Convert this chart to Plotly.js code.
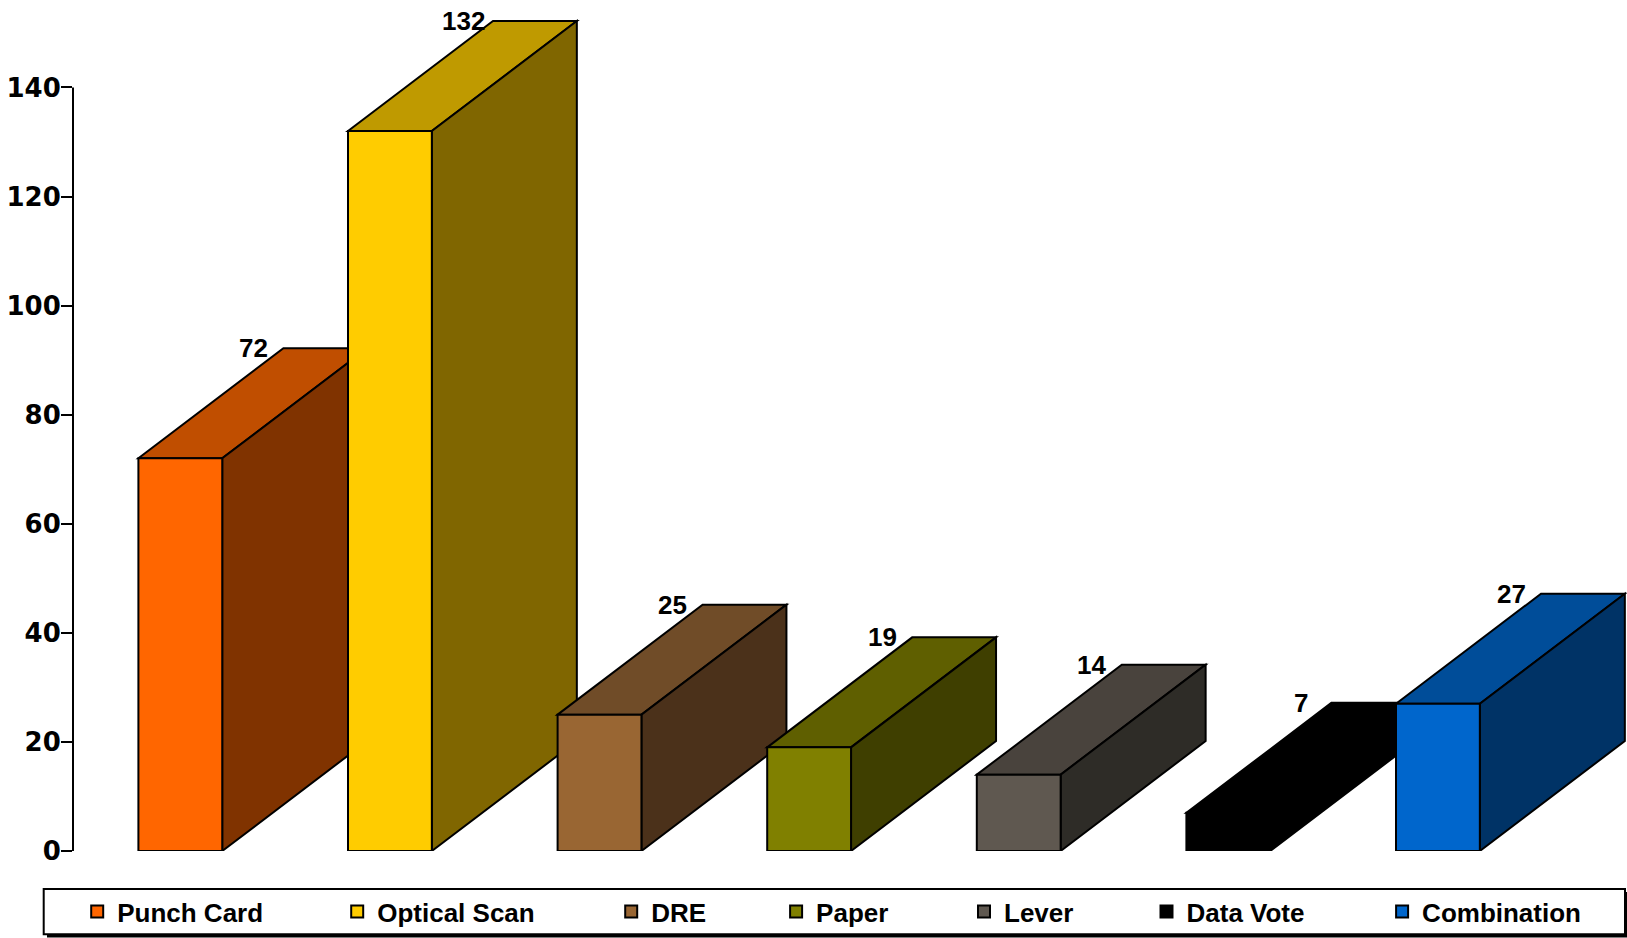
<!DOCTYPE html>
<html>
<head>
<meta charset="utf-8">
<script src="https://cdn.plot.ly/plotly-3.0.1.min.js"></script>
<style>html,body{margin:0;padding:0;background:#fff;}#chart{width:1627px;height:938px;}</style>
</head>
<body>
<div id="chart"></div>
<script>
// ---- data ----
const categories = ["Punch Card", "Optical Scan", "DRE", "Paper", "Lever", "Data Vote", "Combination"];
const values = [72, 132, 25, 19, 14, 7, 27];
const yTickValues = [0, 20, 40, 60, 80, 100, 120, 140];

// ---- styles ----
const frontColors = ["#FF6600", "#FFCC00", "#996633", "#808000", "#5F5850", "#000000", "#0066CC"];
const topColors   = ["#C04E00", "#BF9A00", "#704C28", "#5F5F00", "#49433D", "#000000", "#004D99"];
const sideColors  = ["#803300", "#806600", "#4B311A", "#3F3F00", "#2E2C27", "#000000", "#003366"];

// ---- layout geometry ----
const W = 1627, H = 938;
const ML = 73, MR = 0, MT = 0, MB = 87;
const plotW = W - ML - MR, plotH = H - MT - MB;
const xRange = [-0.512, -0.512 + plotW / 209.6];
const yRange = [0, plotH / 5.454];
const halfW = 0.2;          // half bar width (category units)
const DX = 145 / 209.6;     // depth offset in x units
const DY = 110 / 5.454;     // depth offset in y units
const FONT_T = "Liberation Sans, Arial, sans-serif";
const FONT_AX = "DejaVu Sans, Verdana, sans-serif";
const EDGE = 2;

const px2paperX = p => (p - ML) / plotW;
const px2paperY = p => (MT + plotH - p) / plotH;

// legend swatch centres in pixels (layout positions)
const legendSwatchCentres = [99.2, 359.2, 633.2, 798.1, 986, 1168.5, 1404.1];

const traces = [];
const shapes = [];
const annotations = [];
const layoutLegends = {};

// legend frame (shadow + box)
shapes.push({type: "rect", xref: "paper", yref: "paper", layer: "below",
  x0: px2paperX(47), x1: px2paperX(1628), y0: px2paperY(937.5), y1: px2paperY(892),
  fillcolor: "#000", line: {width: 0}});
shapes.push({type: "rect", xref: "paper", yref: "paper", layer: "below",
  x0: px2paperX(43.7), x1: px2paperX(1625), y0: px2paperY(934.3), y1: px2paperY(889),
  fillcolor: "#fff", line: {color: "#000", width: 2}});

// y axis line 0..140
shapes.push({type: "line", xref: "paper", yref: "y", layer: "above",
  x0: 0, x1: 0, y0: yTickValues[0], y1: yTickValues[yTickValues.length - 1],
  line: {color: "#000", width: 2}});

categories.forEach((name, i) => {
  const v = values[i];
  const xl = i - halfW, xr = i + halfW;
  // top face
  shapes.push({type: "path", xref: "x", yref: "y", layer: "below",
    path: `M${xl},${v} L${xl + DX},${v + DY} L${xr + DX},${v + DY} L${xr},${v} Z`,
    fillcolor: topColors[i], line: {color: "#000", width: EDGE}});
  // side face
  shapes.push({type: "path", xref: "x", yref: "y", layer: "below",
    path: `M${xr},0 L${xr},${v} L${xr + DX},${v + DY} L${xr + DX},${DY} Z`,
    fillcolor: sideColors[i], line: {color: "#000", width: EDGE}});

  const legId = i === 0 ? "legend" : "legend" + (i + 1);
  traces.push({
    type: "bar", name: name, x: [i], y: [v], width: 2 * halfW,
    marker: {color: frontColors[i], line: {color: "#000", width: EDGE}},
    legend: legId, hoverinfo: "none", showlegend: true
  });
  layoutLegends[legId] = {
    x: px2paperX(legendSwatchCentres[i] - 22), xanchor: "left",
    y: px2paperY(911.7), yanchor: "middle",
    orientation: "h", bgcolor: "rgba(0,0,0,0)", borderwidth: 0,
    font: {family: FONT_T, size: 26, weight: "bold", color: "#000"}
  };

  annotations.push({
    x: xl + DX, y: v + DY, xref: "x", yref: "y", xshift: -30,
    text: String(v), showarrow: false, xanchor: "center", yanchor: "middle",
    font: {family: FONT_T, size: 26, weight: "bold", color: "#000"}
  });
});

const layout = Object.assign({
  width: W, height: H,
  margin: {l: ML, r: MR, t: MT, b: MB, pad: 0},
  paper_bgcolor: "#fff", plot_bgcolor: "#fff",
  barmode: "overlay",
  showlegend: true,
  xaxis: {range: xRange, visible: false, fixedrange: true},
  yaxis: {
    range: yRange, showgrid: false, zeroline: false, showline: false,
    tickmode: "array", tickvals: yTickValues, ticktext: yTickValues.map(String),
    ticks: "outside", ticklen: 11, tickwidth: 2, tickcolor: "#000",
    ticklabelstandoff: -5,
    tickfont: {family: FONT_AX, size: 26, weight: "bold", color: "#000"},
    fixedrange: true
  },
  shapes: shapes,
  annotations: annotations
}, layoutLegends);

Plotly.newPlot("chart", traces, layout, {displayModeBar: false, staticPlot: true});
</script>
</body>
</html>
